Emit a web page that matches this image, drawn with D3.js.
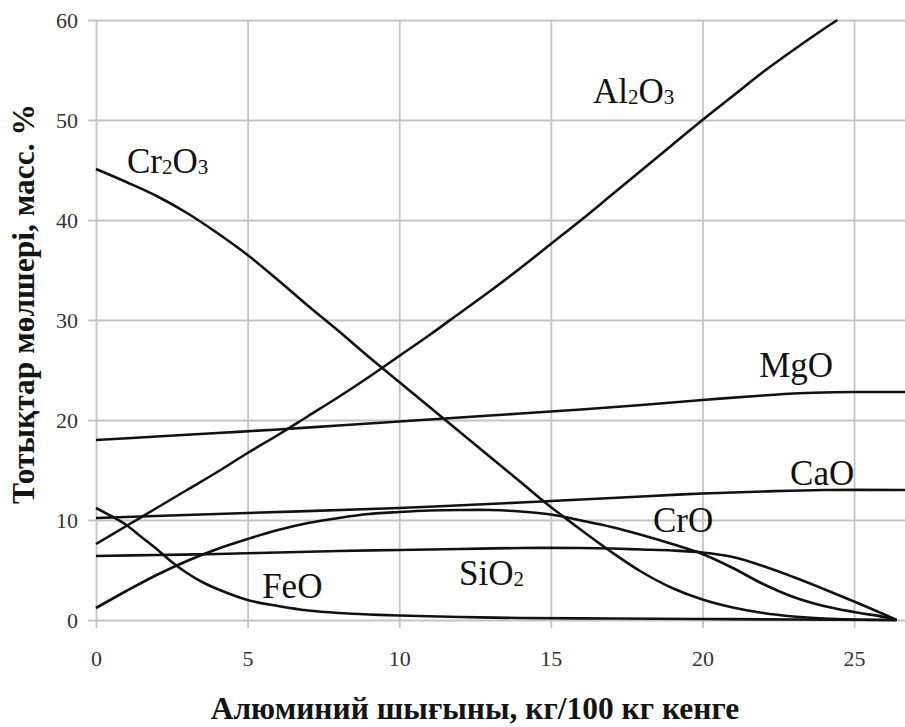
<!DOCTYPE html>
<html>
<head>
<meta charset="utf-8">
<script src="https://cdn.jsdelivr.net/npm/d3@7/dist/d3.min.js"></script>
<style>
  html, body { margin: 0; padding: 0; background: #fff; }
  svg { display: block; }
</style>
</head>
<body>
<script>
// Oxide content of slag vs aluminium consumption
const xTicks = [0, 5, 10, 15, 20, 25];
const yTicks = [0, 10, 20, 30, 40, 50, 60];

const al2o3 = [[0,7.6],[1,9.4],[2,11.2],[3,13.0],[4,14.8],[5,16.7],[6,18.5],[7,20.4],[8,22.3],[9,24.3],[10,26.4],[11,28.5],[12,30.7],[13,32.9],[14,35.2],[15,37.6],[16,40.0],[17,42.5],[18,45.0],[19,47.5],[20,50.0],[21,52.4],[22,54.8],[23,57.0],[24,59.1],[24.45,60]];
const cr2o3 = [[0,45.1],[1,43.8],[2,42.4],[3,40.7],[4,38.7],[5,36.5],[6,34.0],[7,31.4],[8,28.9],[9,26.3],[10,23.8],[11,21.3],[12,18.8],[13,16.3],[14,13.8],[15,11.3],[16,9.0],[17,6.8],[18,4.8],[19,3.2],[20,2.05],[21,1.25],[22,0.7],[23,0.35],[24,0.15],[25,0.05],[26.4,0]];
const mgo   = [[0,18.0],[2,18.35],[4,18.7],[6,19.05],[8,19.45],[10,19.85],[12,20.25],[14,20.65],[16,21.05],[18,21.5],[20,22.0],[22,22.45],[23,22.65],[24,22.75],[25,22.8],[26.68,22.8]];
const cao   = [[0,10.2],[5,10.7],[10,11.2],[14,11.75],[15,11.9],[18,12.35],[20,12.65],[22,12.85],[24,13.0],[26.68,13.0]];
const cro   = [[0,1.2],[1,2.9],[2,4.5],[3,5.9],[4,7.1],[5,8.1],[6,9.0],[7,9.7],[8,10.2],[9,10.6],[10,10.8],[11,10.95],[12,11.0],[13,11.0],[14,10.85],[15,10.55],[16,9.95],[17,9.3],[18,8.5],[19,7.6],[20,6.6],[21,5.2],[22,3.6],[23,2.3],[24,1.4],[25,0.8],[26,0.3],[26.4,0]];
const sio2  = [[0,6.4],[2,6.5],[4,6.6],[6,6.75],[8,6.9],[10,7.0],[12,7.1],[14,7.2],[16,7.2],[17,7.15],[18,7.05],[19,6.95],[20,6.75],[21,6.3],[22,5.4],[23,4.3],[24,3.1],[25,1.85],[26,0.55],[26.4,0]];
const feo   = [[0,11.2],[0.5,10.4],[1,9.5],[1.5,8.3],[2,7.1],[2.5,5.8],[3,4.7],[3.5,3.8],[4,3.1],[5,2.0],[6,1.4],[7,0.95],[8,0.7],[9,0.55],[10,0.45],[12,0.3],[14,0.2],[17,0.15],[20,0.1],[23,0.05],[26.4,0]];

const seriesNames = ["Al2O3", "Cr2O3", "MgO", "CaO", "CrO", "SiO2", "FeO"];
const seriesData  = [al2o3, cr2o3, mgo, cao, cro, sio2, feo];
// label anchors, in chart units (x, y of text baseline start)
const labelAnchors = [[16.39,51.7],[1.02,44.7],[21.87,24.3],[22.89,13.5],[18.37,8.8],[11.97,3.5],[5.48,2.2]];

const xTitle = "Алюминий шығыны, кг/100 кг кенге";
const yTitle = "Тотықтар мөлшері, масс. %";

const W = 905, H = 727;
const serif = '"Liberation Serif", "Times New Roman", Times, serif';

const svg = d3.select("body").append("svg")
  .attr("width", W).attr("height", H)
  .style("background", "#fff");

const x = d3.scaleLinear().domain([0, 26.68]).range([96, 905]);
const y = d3.scaleLinear().domain([0, 60]).range([620, 20]);

const gridColor = "#c4c4c4";

// y axis with horizontal gridlines
const gy = svg.append("g").attr("transform", `translate(${x(0)},0)`)
  .call(d3.axisLeft(y).tickValues(yTicks).tickFormat(d3.format("d"))
    .tickSize(-(x.range()[1] - x.range()[0])).tickPadding(18));
gy.attr("font-family", serif).attr("font-size", 22);
gy.select(".domain").remove();
gy.selectAll(".tick line").attr("x1", -8).attr("stroke", gridColor).attr("stroke-width", 1.8);
gy.selectAll(".tick text").style("font-family", serif).style("font-size", "22px").attr("fill", "#333");

// x axis with vertical gridlines
const gx = svg.append("g").attr("transform", `translate(0,${y(0)})`)
  .call(d3.axisBottom(x).tickValues(xTicks).tickFormat(d3.format("d"))
    .tickSize(-(y.range()[0] - y.range()[1])).tickPadding(30));
gx.attr("font-family", serif).attr("font-size", 22);
gx.select(".domain").remove();
gx.selectAll(".tick line").attr("y1", 8).attr("stroke", gridColor).attr("stroke-width", 1.8);
gx.selectAll(".tick text").style("font-family", serif).style("font-size", "22px").attr("fill", "#333");

// curves
const line = d3.line().x(d => x(d[0])).y(d => y(d[1])).curve(d3.curveCatmullRom.alpha(0.5));
svg.append("g").selectAll("path").data(seriesData).join("path")
  .attr("d", line)
  .attr("fill", "none")
  .attr("stroke", "#111")
  .attr("stroke-width", 2.6)
  .attr("stroke-linejoin", "round");

// series labels with subscript digits
const lab = svg.append("g").style("font-family", serif).style("font-size", "35px").attr("fill", "#111");
seriesNames.forEach((name, i) => {
  const t = lab.append("text").attr("x", x(labelAnchors[i][0])).attr("y", y(labelAnchors[i][1]));
  const parts = name.match(/[A-Za-z]+|\d+/g);
  parts.forEach((p, k) => {
    if (/^\d+$/.test(p)) {
      t.append("tspan").style("font-size", "21px").attr("dy", 1).text(p);
    } else {
      const ts = t.append("tspan").text(p);
      if (k > 0) ts.attr("dy", -1);
    }
  });
});

// axis titles
svg.append("text")
  .attr("x", 475).attr("y", 719)
  .attr("text-anchor", "middle")
  .style("font-family", serif).style("font-weight", "bold").style("font-size", "31.5px")
  .attr("fill", "#141414")
  .text(xTitle);

svg.append("text")
  .attr("transform", "translate(34,304) rotate(-90)")
  .attr("text-anchor", "middle")
  .style("font-family", serif).style("font-weight", "bold").style("font-size", "31.5px")
  .attr("fill", "#141414")
  .text(yTitle);
</script>
</body>
</html>
